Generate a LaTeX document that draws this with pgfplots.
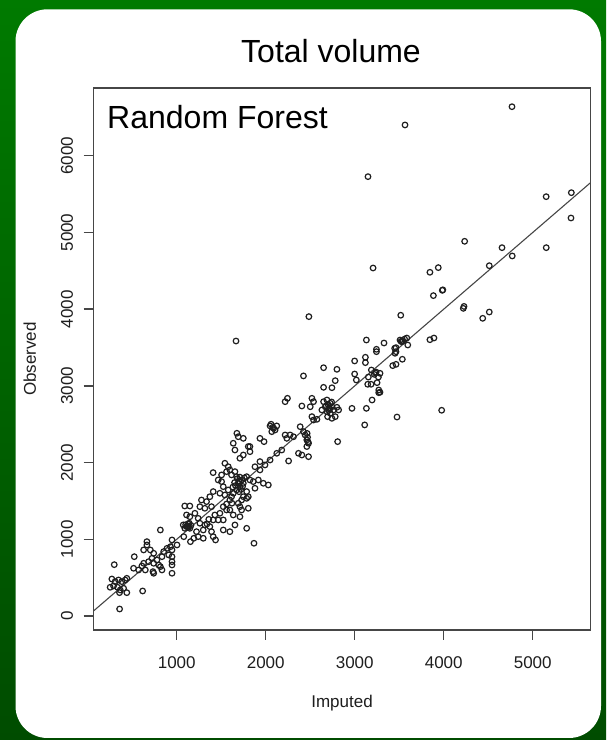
\documentclass[border=0pt]{standalone}
\usepackage{fontspec}
\setmainfont{Liberation Sans}
\usepackage{pgfplots}
\pgfplotsset{compat=1.18}

\definecolor{bgtop}{RGB}{0,122,0}
\definecolor{bgbot}{RGB}{0,76,0}
\definecolor{ink}{RGB}{30,30,30}
\definecolor{frame}{RGB}{70,70,70}

\pgfplotstableread{
x y
4767 6640
3565 6402
3149 5728
5151 5467
5434 5519
5430 5189
5152 4802
4655 4802
4770 4694
4235 4885
4512 4567
3845 4481
3939 4542
3984 4246
3990 4252
3884 4177
4228 4036
4220 4011
3517 3921
4438 3881
4512 3963
3845 3602
3890 3624
3329 3559
3509 3598
3531 3576
3585 3624
3596 3533
3464 3498
3449 3490
3453 3425
3464 3446
3427 3264
3464 3281
3535 3347
3284 3164
3284 2917
3475 2594
3977 2682
3206 4537
1666 3585
2485 3903
3131 3598
3244 3477
3244 3446
2999 3325
3120 3373
3120 3303
2650 3237
2800 3216
2424 3130
2781 3068
2650 2981
2744 2976
2999 3155
3018 3077
3232 3168
3187 3207
3266 3115
3153 3115
3146 3021
3184 3021
3251 3042
3270 2946
3270 2911
3195 2816
3131 2707
2969 2707
3112 2491
2218 2794
2244 2838
2519 2838
2537 2794
2500 2728
2406 2738
2650 2794
2688 2816
2725 2773
2669 2728
2706 2707
2744 2728
2631 2686
2762 2686
2688 2664
2725 2642
2800 2721
2819 2686
2519 2599
2537 2555
2575 2564
2695 2599
2744 2577
2781 2599
2387 2468
2808 2273
2049 2478
2089 2447
2124 2478
2068 2403
2105 2425
2218 2360
2274 2360
2312 2337
2237 2316
2424 2403
2443 2360
2462 2295
2481 2252
2462 2209
1935 2316
1981 2273
1822 2209
1676 2382
1691 2337
1748 2316
1635 2252
1654 2164
1804 2209
1823 2142
1748 2099
1710 2056
1409 1869
1541 1991
1579 1946
1597 1904
1560 1882
1616 1839
1654 1882
1673 1816
1729 1773
1691 1730
1748 1730
1710 1686
1673 1643
1635 1600
1616 1555
1597 1512
1786 1816
1823 1773
1860 1752
1917 1773
1973 1730
2029 1708
1879 1665
1786 1622
1748 1555
1729 1512
1691 1469
1786 1534
1804 1555
1804 1404
1710 1294
1786 1143
1654 1187
1504 1839
1504 1752
1466 1773
1523 1686
1579 1643
1541 1578
1485 1600
1410 1622
1372 1555
1278 1512
1335 1491
1391 1425
1316 1404
1260 1425
1523 1425
1560 1382
1597 1382
1428 1317
1485 1339
1523 1252
1466 1252
1410 1252
1635 1317
1710 1425
1729 1382
1090 1434
1147 1434
1110 1317
1147 1294
1204 1339
1241 1273
1073 1187
1110 1165
1129 1200
1147 1143
1091 1143
1260 1209
1316 1187
1372 1165
1298 1121
1391 1099
1222 1099
1241 1034
1298 1013
1410 1034
1523 1121
1597 1099
2257 2021
2368 2121
2406 2099
2481 2077
2124 2121
2180 2164
1935 2013
1992 1969
2049 2034
1879 1946
1935 1904
1868 948
358 91
298 669
271 482
308 448
346 469
383 448
421 469
439 491
252 374
290 391
335 374
365 339
403 361
439 304
357 304
617 326
523 773
515 622
572 600
609 652
647 600
628 687
665 969
665 926
628 861
703 861
741 817
722 752
684 708
741 687
778 730
797 665
834 773
853 839
891 882
929 903
947 861
910 796
947 773
741 557
733 578
816 643
834 600
947 708
947 665
947 557
816 1121
947 991
1003 926
1079 1034
1154 969
1192 1013
1436 991
1660 1700
1700 1760
1720 1650
1680 1790
1740 1690
1700 1620
1650 1740
1760 1800
1630 1680
1710 1810
1100 1190
1120 1170
1140 1210
1160 1180
1130 1155
2700 2760
2720 2700
2680 2740
2740 2790
2710 2680
2470 2330
2475 2270
2465 2380
3540 3590
3560 3610
3520 3580
3220 3150
3240 3180
1340 1200
1360 1260
2080 2460
2060 2500
1560 1460
1620 1470
}\volume

\begin{document}
\begin{tikzpicture}[x=1pt,y=1pt]
\shade[top color=bgtop,bottom color=bgbot] (0,0) rectangle (606,740);
\fill[white,rounded corners=32pt] (15.5,2) rectangle (601,730.7);
\begin{axis}[
  at={(93.7pt,110.3pt)}, anchor=south west,
  scale only axis, width=496.6pt, height=541.4pt,
  xmin=67, xmax=5647, ymin=-179, ymax=6880,
  axis line style={frame,line width=1.6pt},
  xtick={1000,2000,3000,4000,5000},
  ytick={0,1000,2000,3000,4000,5000,6000},
  tick pos=left, tick align=outside,
  major tick length=10pt,
  tick style={frame,line width=1.4pt},
  /pgf/number format/assume math mode=true,
  /pgf/number format/1000 sep={},
  ticklabel style={font=\fontsize{17}{17}\selectfont,text=ink,inner sep=0pt},
  x tick label style={anchor=base,yshift=-28.3pt},
  y tick label style={rotate=90,anchor=base,yshift=10.7pt},
  xlabel={Imputed}, ylabel={Observed},
  label style={font=\fontsize{17}{17}\selectfont,text=ink,inner sep=0pt},
  xlabel style={at={(axis description cs:0.5,0)},anchor=base,yshift=-77.5pt},
  ylabel style={at={(axis description cs:0,0.5)},anchor=base,yshift=57.7pt},
  title={Total volume},
  title style={at={(axis description cs:0.5,1)},anchor=base,inner sep=0pt,
    yshift=20pt,xshift=-11pt,font=\fontsize{32}{32}\selectfont},
]
\addplot[frame,line width=1.1pt] coordinates {(67,67) (5647,5647)};
\addplot[only marks,mark=o,mark size=2.8pt,mark options={ink,line width=1.2pt}]
  table[x=x,y=y] {\volume};
\node[anchor=base west,inner sep=0pt,font=\fontsize{32}{32}\selectfont]
  at (axis cs:217,6359) {Random Forest};
\end{axis}
\end{tikzpicture}
\end{document}
